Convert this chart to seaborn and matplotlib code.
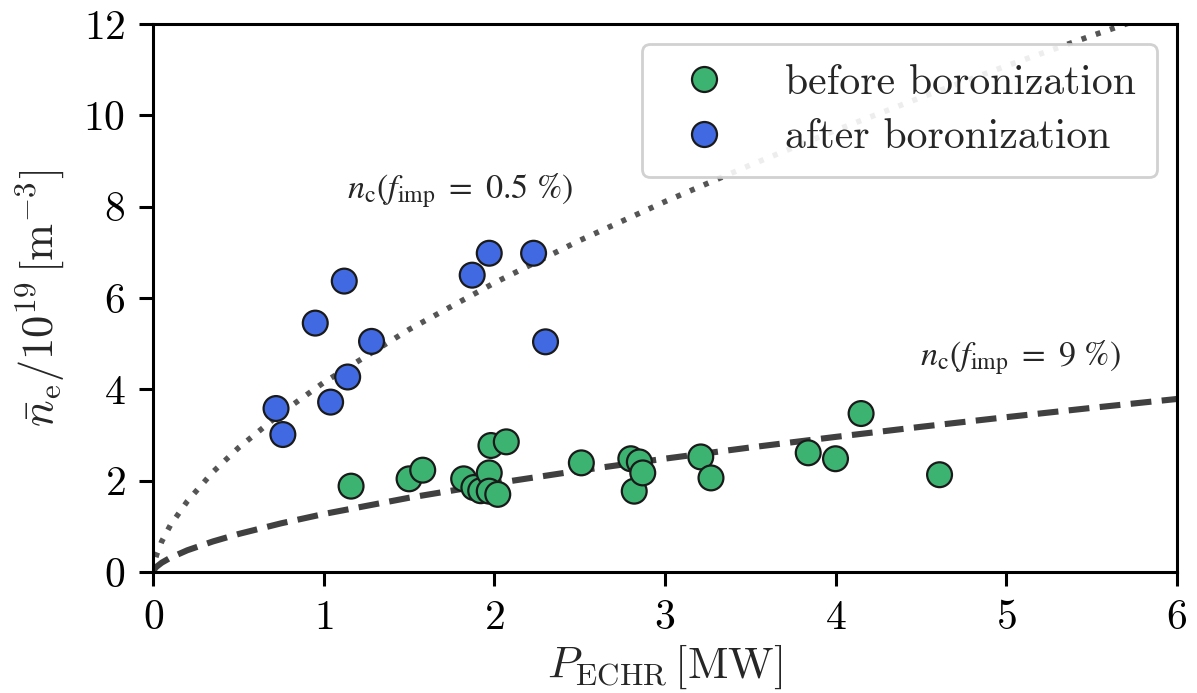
import numpy as np
import pandas as pd
import matplotlib
matplotlib.use("Agg")
import matplotlib.pyplot as plt
import seaborn as sns

# Line-averaged density vs. ECRH power, before boronization
p_before = [1.16, 1.50, 1.58, 1.82, 1.88, 1.92, 1.97, 1.97, 1.98, 2.02, 2.07,
            2.51, 2.80, 2.82, 2.85, 2.87, 3.21, 3.27, 3.84, 4.00, 4.15, 4.61]
n_before = [1.88, 2.04, 2.23, 2.04, 1.85, 1.78, 2.17, 1.77, 2.77, 1.70, 2.85,
            2.39, 2.48, 1.77, 2.41, 2.17, 2.52, 2.06, 2.61, 2.48, 3.47, 2.13]

# ... and after boronization
p_after = [0.72, 0.76, 0.95, 1.04, 1.12, 1.14, 1.28, 1.87, 1.97, 2.23, 2.30]
n_after = [3.58, 3.01, 5.45, 3.72, 6.37, 4.27, 5.05, 6.50, 6.98, 6.98, 5.04]

# Critical density curves n_c(P) for two impurity fractions
p_curve = [0.0, 0.01, 0.02, 0.05, 0.1, 0.2, 0.35, 0.5, 0.75, 1.0, 1.5, 2.0,
           2.5, 3.0, 3.5, 4.0, 4.5, 5.0, 5.5, 6.0]
nc_low = [0.0, 0.25, 0.38, 0.67, 1.02, 1.55, 2.19, 2.72, 3.48, 4.15, 5.31,
          6.33, 7.26, 8.11, 8.91, 9.67, 10.39, 11.08, 11.74, 12.38]
nc_high = [0.0, 0.077, 0.117, 0.204, 0.311, 0.476, 0.669, 0.832, 1.066, 1.27,
           1.626, 1.938, 2.221, 2.482, 2.727, 2.958, 3.179, 3.390, 3.593, 3.788]

labels = ["before boronization", "after boronization"]
colors = ["#3CB371", "#4169E1"]

sns.set_style("ticks")
plt.rcParams.update({
    "font.family": "serif",
    "font.serif": ["cmr10"],
    "mathtext.fontset": "cm",
    "axes.formatter.use_mathtext": True,
    "axes.linewidth": 1.1,
    "xtick.major.width": 1.1,
    "ytick.major.width": 1.1,
    "xtick.major.size": 5.0,
    "ytick.major.size": 5.0,
    "xtick.color": "black",
    "ytick.color": "black",
    "axes.edgecolor": "black",
})

df = pd.DataFrame({
    "P": p_before + p_after,
    "n": n_before + n_after,
    "phase": [labels[0]] * len(p_before) + [labels[1]] * len(p_after),
})
curves = pd.DataFrame({"P": p_curve, "low": nc_low, "high": nc_high})

fig = plt.figure(figsize=(5.985, 3.465), dpi=200)
ax = fig.add_axes([0.128, 0.1746, 0.855, 0.7908])

sns.lineplot(data=curves, x="P", y="low", ax=ax, color="#555555",
             linewidth=2.0, zorder=1)
ax.lines[-1].set_dashes([0.9, 1.8])
sns.lineplot(data=curves, x="P", y="high", ax=ax, color="#404040",
             linewidth=2.2, zorder=1)
ax.lines[-1].set_dashes([3.4, 1.7])

sns.scatterplot(data=df, x="P", y="n", hue="phase", hue_order=labels,
                palette=colors, s=80, edgecolor="#1a1a1a", linewidth=0.8,
                ax=ax, zorder=3)

ax.set_xlim(0, 6)
ax.set_ylim(0, 12)
ax.set_xticks(range(0, 7))
ax.set_yticks(range(0, 13, 2))
ax.tick_params(labelsize=15, pad=5)

ax.set_xlabel(r"$P_\mathrm{ECHR}\,[\mathrm{MW}]$", fontsize=16, labelpad=2)
ax.set_ylabel(r"$\bar{n}_\mathrm{e}/10^{19}\,[\mathrm{m}^{-3}]$", fontsize=16,
              labelpad=6)

ax.text(1.80, 8.37, r"$n_\mathrm{c}(f_\mathrm{imp}\ =\ 0.5\ \%)$", fontsize=12.3,
        ha="center", va="center", math_fontfamily="stix")
ax.text(5.085, 4.70, r"$n_\mathrm{c}(f_\mathrm{imp}\ =\ 9\ \%)$", fontsize=12.3,
        ha="center", va="center", math_fontfamily="stix")

leg = ax.legend(loc="upper right", fontsize=15, frameon=True, fancybox=True,
                handletextpad=0.95, borderpad=0.5, labelspacing=0.4,
                bbox_to_anchor=(0.981, 0.964), borderaxespad=0.0)
leg.get_frame().set_edgecolor("#cccccc")
leg.get_frame().set_linewidth(1.0)
leg.get_frame().set_alpha(0.9)
for h in leg.legend_handles:
    if hasattr(h, "set_markersize"):
        h.set_markersize(9)
        h.set_markeredgecolor("#1a1a1a")
        h.set_markeredgewidth(0.8)

fig.savefig("out.png", dpi=200)
